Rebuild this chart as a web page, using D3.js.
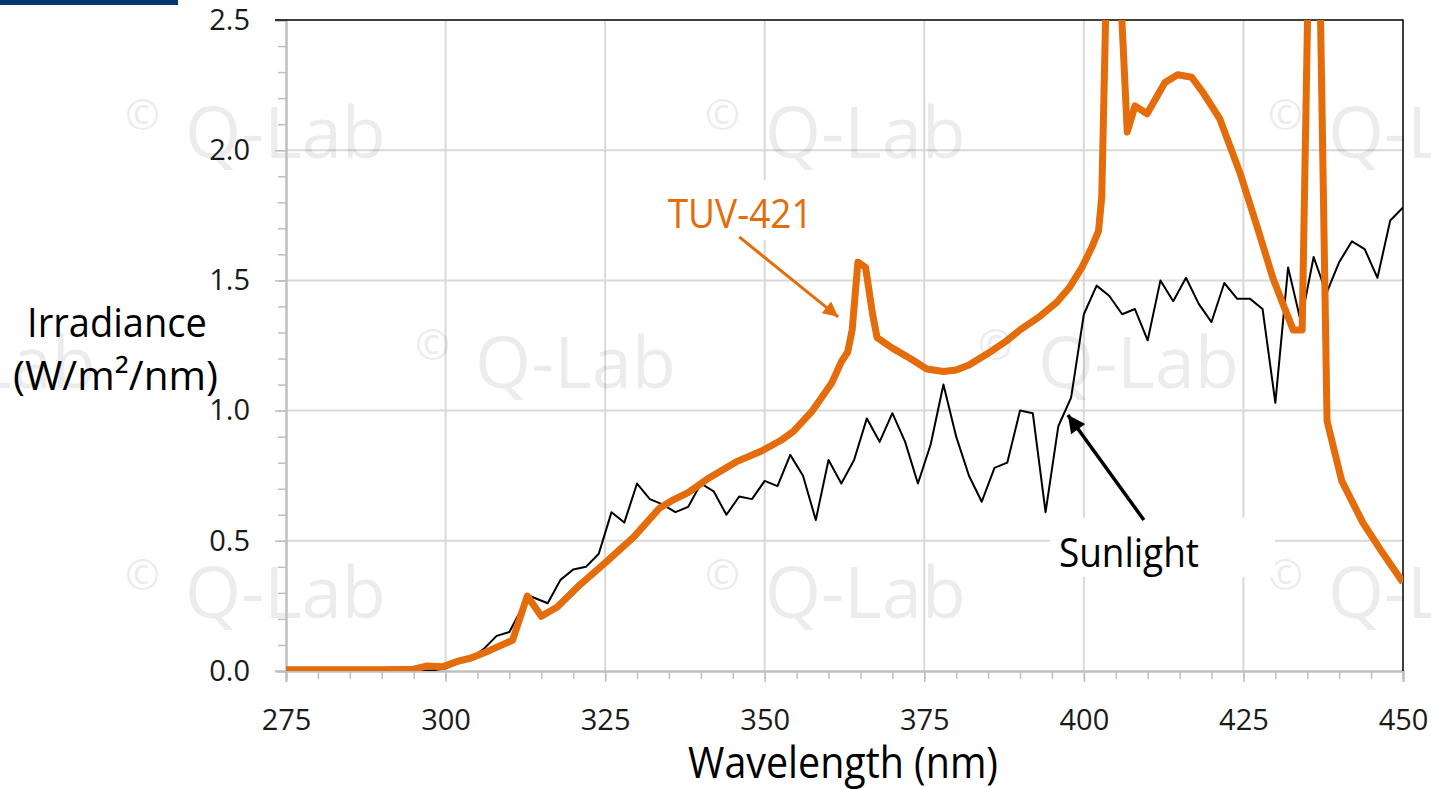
<!DOCTYPE html>
<html>
<head>
<meta charset="utf-8">
<script src="https://cdn.jsdelivr.net/npm/d3@7"></script>
<style>
	body { margin: 0; background: #fff; }
	svg { display: block; font-family: "Open Sans", sans-serif; }
</style>
</head>
<body>
<div id="chart"></div>
<script>
// sunlight spectrum, every 2 nm
var sunWave = [295, 298, 300, 302, 304, 306, 308, 310, 313, 316, 318, 320, 322, 324, 326, 328, 330,
	332, 334, 336, 338, 340, 342, 344, 346, 348, 350, 352, 354, 356, 358, 360, 362, 364, 366, 368, 370,
	372, 374, 376, 378, 380, 382, 384, 386, 388, 390, 392, 394, 396, 398, 400, 402, 404, 406, 408, 410,
	412, 414, 416, 418, 420, 422, 424, 426, 428, 430, 432, 434, 436, 438, 440, 442, 444, 446, 448, 450];
var sunValue = [0, 0.003, 0.01, 0.03, 0.05, 0.085, 0.135, 0.15, 0.29, 0.26, 0.35, 0.39, 0.40, 0.45, 0.61, 0.57, 0.72,
	0.66, 0.64, 0.61, 0.63, 0.72, 0.69, 0.60, 0.67, 0.66, 0.73, 0.71, 0.83, 0.75, 0.58, 0.81, 0.72, 0.81, 0.97, 0.88, 0.99,
	0.88, 0.72, 0.87, 1.10, 0.90, 0.75, 0.65, 0.78, 0.80, 1.00, 0.99, 0.61, 0.94, 1.05, 1.37, 1.48, 1.44, 1.37, 1.39, 1.27,
	1.50, 1.42, 1.51, 1.41, 1.34, 1.49, 1.43, 1.43, 1.39, 1.03, 1.55, 1.34, 1.59, 1.45, 1.57, 1.65, 1.62, 1.51, 1.73, 1.78];

// TUV-421 lamp spectrum
var tuvWave = [275, 280, 285, 290, 295, 297, 299.5, 302, 304, 307, 310.5, 312.8, 315, 317.5, 321, 325, 329.5,
	333.5, 335.5, 338, 341, 345.5, 349.5, 352.5, 354.5, 357.5, 360.5, 362, 363, 363.7, 364.6, 365.8, 366.9,
	367.6, 370, 372.8, 375.4, 378, 380, 382, 385, 388, 390, 393, 395.8, 397.8, 399.7, 401.3, 402.3, 402.8,
	404.2, 406.8, 408, 409.9, 412.7, 414.7, 416.9, 418.7, 421.3, 424.5, 427.1, 429.6, 431.5, 432.8, 434.2,
	436.1, 438.1, 440.4, 443.7, 446.9, 450];
var tuvValue = [0.005, 0.005, 0.005, 0.005, 0.007, 0.019, 0.016, 0.038, 0.05, 0.08, 0.118, 0.288, 0.21, 0.246, 0.33, 0.415, 0.515,
	0.625, 0.655, 0.685, 0.737, 0.803, 0.845, 0.885, 0.92, 1.0, 1.106, 1.187, 1.225, 1.31, 1.57, 1.55, 1.37,
	1.28, 1.24, 1.20, 1.16, 1.15, 1.156, 1.175, 1.22, 1.27, 1.31, 1.36, 1.417, 1.475, 1.55, 1.63, 1.69, 1.82,
	3.4, 2.07, 2.17, 2.14, 2.26, 2.29, 2.28, 2.22, 2.12, 1.91, 1.71, 1.51, 1.39, 1.31, 1.31,
	4.0, 0.96, 0.73, 0.57, 0.45, 0.34];

var xTicks = [275, 300, 325, 350, 375, 400, 425, 450];
var yTicks = [0, 0.5, 1.0, 1.5, 2.0, 2.5];

// annotations, in data units: [label, labelX, labelY, arrowFromX, arrowFromY, arrowToX, arrowToY]
var labelTuv = ['TUV-421', 334.8, 1.70, 346.0, 1.667, 361.5, 1.36];
var labelSun = ['Sunlight', 396.1, 0.40, 409.4, 0.58, 397.5, 0.983];

var orange = '#E46C0A';

buildChart();

function buildChart(){

	var width = 1431,
		height = 789,
		left = 286, right = 1403, top = 20, bottom = 671;

	var svg = d3.select('#chart').append('svg')
		.attr('width', width)
		.attr('height', height);

	var x = d3.scaleLinear().domain([275, 450]).range([left, right]);
	var y = d3.scaleLinear().domain([0, 2.5]).range([bottom, top]);

	// navy strip top-left
	svg.append('rect')
		.attr('x', 0).attr('y', 0)
		.attr('width', 178).attr('height', 5)
		.style('fill', '#003473');

	// gridlines
	var grid = svg.append('g');
	grid.selectAll('.vgrid')
		.data(xTicks.slice(1, -1))
		.enter().append('line')
			.attr('x1', function(d){ return x(d); })
			.attr('x2', function(d){ return x(d); })
			.attr('y1', top).attr('y2', bottom)
			.style('stroke', '#d9d9d9').style('stroke-width', 2);
	grid.selectAll('.hgrid')
		.data(yTicks.slice(1, -1))
		.enter().append('line')
			.attr('x1', left).attr('x2', right)
			.attr('y1', function(d){ return y(d); })
			.attr('y2', function(d){ return y(d); })
			.style('stroke', '#d9d9d9').style('stroke-width', 2);

	// watermark
	var marks = [[125, 158], [705, 158], [1268, 158], [-165, 388], [415, 388], [978, 388], [125, 618], [705, 618], [1268, 618]];
	var wm = svg.append('g').style('fill', '#000').style('opacity', 0.07);
	marks.forEach(function(m){
		wm.append('text').attr('x', m[0]).attr('y', m[1] - 28).style('font-size', '42px').text('\u00a9');
		wm.append('text').attr('x', m[0] + 60).attr('y', m[1]).style('font-size', '72px').text('Q-Lab');
	});

	// white boxes behind the labels
	svg.append('rect')
		.attr('x', x(labelTuv[1]) - 18).attr('y', y(labelTuv[2]) - 48)
		.attr('width', 185).attr('height', 60)
		.style('fill', '#fff');
	svg.append('rect')
		.attr('x', x(labelSun[1]) - 9).attr('y', y(labelSun[2]) - 49)
		.attr('width', 225).attr('height', 59)
		.style('fill', '#fff');

	// axes
	var axisGray = '#bfbfbf';

	var xMinor = svg.append('g')
		.attr('transform', 'translate(0,' + bottom + ')')
		.call(d3.axisBottom(x).tickValues(d3.range(275, 451, 5)).tickSize(8).tickFormat(''));
	var xAxis = svg.append('g')
		.attr('transform', 'translate(0,' + bottom + ')')
		.call(d3.axisBottom(x).tickValues(xTicks).tickSize(11).tickPadding(27).tickFormat(d3.format('d')));

	var yMinor = svg.append('g')
		.attr('transform', 'translate(' + left + ',0)')
		.call(d3.axisLeft(y).tickValues(d3.range(0, 2.51, 0.1)).tickSize(8).tickFormat(''));
	var yAxis = svg.append('g')
		.attr('transform', 'translate(' + left + ',0)')
		.call(d3.axisLeft(y).tickValues(yTicks).tickSize(11).tickPadding(25).tickFormat(d3.format('.1f')));

	[xMinor, xAxis, yMinor, yAxis].forEach(function(a){
		a.selectAll('path').style('stroke', axisGray).style('stroke-width', 2);
		a.selectAll('line').style('stroke', axisGray).style('stroke-width', 1.5);
		a.selectAll('text')
			.style('font-family', '"Open Sans", sans-serif')
			.style('font-size', '29px')
			.style('fill', '#1a1a1a');
	});

	// top and right border
	svg.append('path')
		.attr('d', 'M' + (left - 11) + ',' + top + 'H' + right + 'V' + bottom)
		.style('fill', 'none').style('stroke', '#000').style('stroke-width', 1.5);

	// series
	svg.append('clipPath').attr('id', 'plotClip')
		.append('rect')
			.attr('x', left).attr('y', top)
			.attr('width', right - left).attr('height', bottom - top);

	var sunLine = d3.line()
		.x(function(d, i){ return x(sunWave[i]); })
		.y(function(d){ return y(d); });
	var tuvLine = d3.line()
		.x(function(d, i){ return x(tuvWave[i]); })
		.y(function(d){ return y(d); });

	svg.append('path')
		.datum(sunValue)
		.attr('clip-path', 'url(#plotClip)')
		.attr('d', sunLine)
		.style('fill', 'none')
		.style('stroke', '#000')
		.style('stroke-width', 2)
		.style('stroke-linejoin', 'round');

	svg.append('path')
		.datum(tuvValue)
		.attr('clip-path', 'url(#plotClip)')
		.attr('d', tuvLine)
		.style('fill', 'none')
		.style('stroke', orange)
		.style('stroke-width', 7)
		.style('stroke-linejoin', 'round');

	// annotations
	var defs = svg.append('defs');
	[['arrowOrange', orange], ['arrowBlack', '#000']].forEach(function(a){
		defs.append('marker')
			.attr('id', a[0])
			.attr('viewBox', '0 0 10 10')
			.attr('refX', 10).attr('refY', 5)
			.attr('markerWidth', 5.5).attr('markerHeight', 5)
			.attr('markerUnits', 'strokeWidth')
			.attr('orient', 'auto')
			.append('path')
				.attr('d', 'M0,0L10,5L0,10Z')
				.style('fill', a[1]);
	});

	svg.append('line')
		.attr('x1', x(labelTuv[3])).attr('y1', y(labelTuv[4]))
		.attr('x2', x(labelTuv[5])).attr('y2', y(labelTuv[6]))
		.attr('marker-end', 'url(#arrowOrange)')
		.style('stroke', orange).style('stroke-width', 3);
	svg.append('line')
		.attr('x1', x(labelSun[3])).attr('y1', y(labelSun[4]))
		.attr('x2', x(labelSun[5])).attr('y2', y(labelSun[6]))
		.attr('marker-end', 'url(#arrowBlack)')
		.style('stroke', '#000').style('stroke-width', 3.5);

	svg.append('text')
		.attr('x', x(labelTuv[1])).attr('y', y(labelTuv[2]))
		.attr('textLength', 145).attr('lengthAdjust', 'spacingAndGlyphs')
		.style('font-size', '41px').style('fill', orange)
		.text(labelTuv[0]);
	svg.append('text')
		.attr('x', x(labelSun[1])).attr('y', y(labelSun[2]))
		.attr('textLength', 140).attr('lengthAdjust', 'spacingAndGlyphs')
		.style('font-size', '41px').style('fill', '#000')
		.text(labelSun[0]);

	// axis titles
	svg.append('text')
		.attr('x', 27).attr('y', 337)
		.attr('textLength', 180).attr('lengthAdjust', 'spacingAndGlyphs')
		.style('font-size', '40px')
		.text('Irradiance');
	svg.append('text')
		.attr('x', 13).attr('y', 390)
		.attr('textLength', 205).attr('lengthAdjust', 'spacingAndGlyphs')
		.style('font-size', '40px')
		.text('(W/m\u00b2/nm)');
	svg.append('text')
		.attr('x', 688).attr('y', 778)
		.attr('textLength', 310).attr('lengthAdjust', 'spacingAndGlyphs')
		.style('font-size', '44px')
		.text('Wavelength (nm)');
}
</script>
</body>
</html>
